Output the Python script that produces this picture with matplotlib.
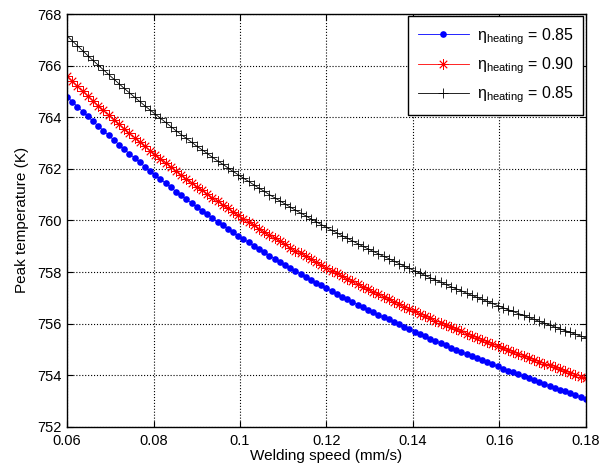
import matplotlib
matplotlib.use("Agg")
import matplotlib.pyplot as plt
import numpy as np

plt.rcParams.update({
    "font.family": ["Liberation Sans", "DejaVu Sans"],
    "font.size": 10.5,
    "mathtext.fontset": "custom",
    "mathtext.rm": "Liberation Sans",
    "mathtext.it": "Liberation Sans:italic",
})

# welding speed (mm/s), 101 samples from 0.06 to 0.18
speed = np.linspace(0.06, 0.18, 101)

# peak temperature (K), eta_heating = 0.85
temp_a = [
    764.80, 764.60, 764.41, 764.22, 764.03, 763.84, 763.66, 763.48, 763.30, 763.12,
    762.94, 762.76, 762.59, 762.42, 762.25, 762.08, 761.92, 761.76, 761.60, 761.44,
    761.28, 761.12, 760.97, 760.82, 760.67, 760.52, 760.38, 760.24, 760.09, 759.95,
    759.82, 759.68, 759.54, 759.41, 759.28, 759.15, 759.02, 758.89, 758.77, 758.64,
    758.52, 758.40, 758.28, 758.16, 758.04, 757.93, 757.82, 757.70, 757.59, 757.48,
    757.37, 757.26, 757.16, 757.05, 756.95, 756.85, 756.74, 756.64, 756.54, 756.44,
    756.35, 756.25, 756.16, 756.06, 755.97, 755.87, 755.78, 755.69, 755.60, 755.51,
    755.42, 755.33, 755.25, 755.16, 755.07, 754.99, 754.91, 754.82, 754.74, 754.66,
    754.58, 754.50, 754.42, 754.34, 754.26, 754.18, 754.11, 754.03, 753.96, 753.88,
    753.81, 753.73, 753.66, 753.59, 753.51, 753.44, 753.37, 753.30, 753.23, 753.16,
    753.09,
]

# peak temperature (K), eta_heating = 0.90
temp_b = [
    765.59, 765.39, 765.20, 765.01, 764.82, 764.63, 764.45, 764.27, 764.09, 763.91,
    763.73, 763.55, 763.38, 763.21, 763.04, 762.87, 762.71, 762.55, 762.39, 762.23,
    762.07, 761.91, 761.76, 761.61, 761.46, 761.31, 761.17, 761.03, 760.88, 760.74,
    760.61, 760.47, 760.33, 760.20, 760.07, 759.94, 759.81, 759.68, 759.56, 759.43,
    759.31, 759.19, 759.07, 758.95, 758.83, 758.72, 758.61, 758.49, 758.38, 758.27,
    758.16, 758.05, 757.95, 757.84, 757.74, 757.64, 757.53, 757.43, 757.33, 757.23,
    757.14, 757.04, 756.95, 756.85, 756.76, 756.66, 756.57, 756.48, 756.39, 756.30,
    756.21, 756.12, 756.04, 755.95, 755.86, 755.78, 755.70, 755.61, 755.53, 755.45,
    755.37, 755.29, 755.21, 755.13, 755.05, 754.97, 754.90, 754.82, 754.75, 754.67,
    754.60, 754.52, 754.45, 754.38, 754.30, 754.23, 754.16, 754.09, 754.02, 753.95,
    753.88,
]

# peak temperature (K), third run
temp_c = [
    767.16, 766.96, 766.77, 766.58, 766.39, 766.20, 766.02, 765.84, 765.66, 765.48,
    765.30, 765.12, 764.95, 764.78, 764.61, 764.44, 764.28, 764.12, 763.96, 763.80,
    763.64, 763.48, 763.33, 763.18, 763.03, 762.88, 762.74, 762.60, 762.45, 762.31,
    762.18, 762.04, 761.90, 761.77, 761.64, 761.51, 761.38, 761.25, 761.13, 761.00,
    760.88, 760.76, 760.64, 760.52, 760.40, 760.29, 760.18, 760.06, 759.95, 759.84,
    759.73, 759.62, 759.52, 759.41, 759.31, 759.21, 759.10, 759.00, 758.90, 758.80,
    758.71, 758.61, 758.52, 758.42, 758.33, 758.23, 758.14, 758.05, 757.96, 757.87,
    757.78, 757.69, 757.61, 757.52, 757.43, 757.35, 757.27, 757.18, 757.10, 757.02,
    756.94, 756.86, 756.78, 756.70, 756.62, 756.54, 756.47, 756.39, 756.32, 756.24,
    756.17, 756.09, 756.02, 755.95, 755.87, 755.80, 755.73, 755.66, 755.59, 755.52,
    755.45,
]

labels = [r"η$_{\mathrm{heating}}$ = 0.85",
          r"η$_{\mathrm{heating}}$ = 0.90",
          r"η$_{\mathrm{heating}}$ = 0.85"]

xticks = [0.06, 0.08, 0.1, 0.12, 0.14, 0.16, 0.18]
xticklabels = ["0.06", "0.08", "0.1", "0.12", "0.14", "0.16", "0.18"]
yticks = [752, 754, 756, 758, 760, 762, 764, 766, 768]

fig = plt.figure(figsize=(5.99, 4.68), dpi=100)
ax = fig.add_axes([0.112, 0.088, 0.866, 0.882])

ax.plot(speed, temp_a, color="blue", lw=0.6, marker="o", ms=4.8,
        mec="blue", mfc="blue", mew=0.0, label=labels[0])
ax.plot(speed, temp_b, color="red", lw=0.6, marker=(8, 2, 0), ms=7.5,
        mec="red", mew=0.6, label=labels[1])
ax.plot(speed, temp_c, color="black", lw=0.6, marker="+", ms=7.5,
        mec="black", mew=0.6, label=labels[2])

ax.set_xlim(0.06, 0.18)
ax.set_ylim(752, 768)
ax.set_xticks(xticks)
ax.set_xticklabels(xticklabels)
ax.set_yticks(yticks)
ax.grid(True, color="black", linestyle=":", linewidth=0.8)
ax.tick_params(direction="in", top=True, right=True, length=4, width=0.8,
               labelsize=10.5)
ax.tick_params(axis="x", pad=5)
ax.tick_params(axis="y", pad=4)
for s in ax.spines.values():
    s.set_linewidth(1.0)

ax.set_xlabel("Welding speed (mm/s)", fontsize=11, labelpad=1)
ax.set_ylabel("Peak temperature (K)", fontsize=11, labelpad=6)

leg = ax.legend(loc="upper right", bbox_to_anchor=(1.0, 1.0),
                borderaxespad=0.15, fontsize=11.5, handlelength=3.2,
                labelspacing=0.55, fancybox=False, framealpha=1,
                edgecolor="black", borderpad=0.6, handletextpad=0.5)
leg.get_frame().set_linewidth(1.0)

fig.savefig("out.png", dpi=100)
